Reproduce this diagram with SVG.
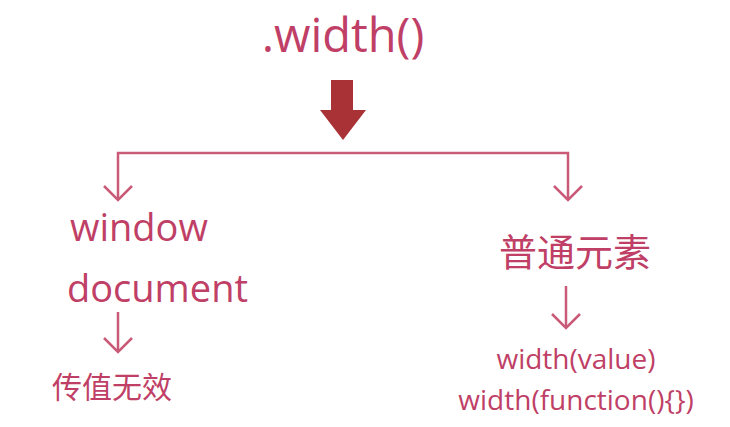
<svg xmlns="http://www.w3.org/2000/svg" width="730" height="427" viewBox="0 0 730 427">
<style>
text{font-family:"Open Sans","Noto Sans CJK SC",sans-serif;fill:#bf3f66}
.l{fill:none;stroke:#c95a78;stroke-width:2.5}
</style>
<rect width="730" height="427" fill="#fff"/>
<g id="title"><text x="343" y="52" font-size="47" text-anchor="middle">.width()</text></g>
<g id="bigarrow"><polygon points="331,80 353,80 353,110 366,110 343,140 320,110 331,110" fill="#a83236"/></g>
<g id="connectors" class="l">
<polyline points="118,200 118,153 568,153 568,200"/>
<polyline points="104,186 118,200 132,186"/>
<polyline points="554,186 568,200 582,186"/>
<polyline points="118,312 118,352"/><polyline points="104,338 118,352 132,338"/>
<polyline points="566,286 566,328"/><polyline points="552,314 566,328 580,314"/>
</g>
<g id="window"><text x="70" y="241" font-size="38">window</text></g>
<g id="document"><text x="67" y="302" font-size="38">document</text></g>
<g id="invalid"><text x="52" y="398" font-size="30">传值无效</text></g>
<g id="normal"><text x="575" y="266" font-size="38" text-anchor="middle">普通元素</text></g>
<g id="setters"><text x="576" y="369" font-size="28" text-anchor="middle">width(value)</text>
<text x="576" y="410" font-size="28" text-anchor="middle">width(function(){})</text></g>
</svg>
